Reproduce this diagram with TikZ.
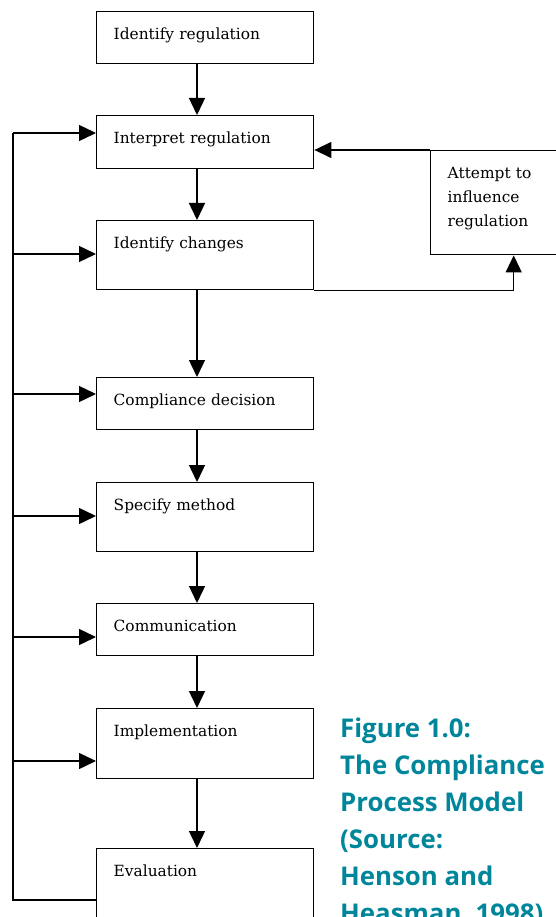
\documentclass[tikz,border=0pt]{standalone}
\usepackage{fontspec}
\setmainfont{DejaVu Serif}
\newfontfamily\capfont{Open Sans}
\usetikzlibrary{arrows.meta}
\definecolor{capteal}{RGB}{0,134,155}

\begin{document}
\begin{tikzpicture}[x=1pt,y=-1pt]
	\tikzset{stage/.style={draw=black,line width=1.4pt,anchor=north west,inner sep=0pt,inner xsep=17pt,text width=183pt,align=left,text height=28pt,text depth=#1,font=\fontsize{15.4}{24}\selectfont},
		flow/.style={-{Triangle[length=17pt,width=16pt]},line width=1.4pt}}
	\useasboundingbox (0,0) rectangle (556,917);
	\coordinate (axis) at (197,0);
	\coordinate (rail) at (13,900);
	\node[stage=24pt] (idreg) at (96,11) {Identify regulation};
	\node[stage=25pt] (interp) at (96,115) {Interpret regulation};
	\node[stage=41pt] (idchg) at (96,220) {Identify changes};
	\node[stage=24pt] (decide) at (96,377) {Compliance decision};
	\node[stage=41pt] (method) at (96,482) {Specify method};
	\node[stage=24pt] (comm) at (96,603) {Communication};
	\node[stage=42pt] (impl) at (96,708) {Implementation};
	\node[stage=41pt] (eval) at (96,848) {Evaluation};
	\node[stage=76pt,text width=132pt] (attempt) at (430,150) {Attempt to\\influence\\regulation};
	\node[anchor=base west,align=left,inner sep=0pt,text=capteal,font=\capfont\bfseries\fontsize{25.8}{37}\selectfont] (caption) at (340,922) {Figure 1.0:\\The Compliance\\Process Model\\(Source:\\Henson and\\Heasman, 1998)};
	\draw[flow] (idreg.south -| axis) -- (interp.north -| axis);
	\draw[flow] (interp.south -| axis) -- (idchg.north -| axis);
	\draw[flow] (idchg.south -| axis) -- (decide.north -| axis);
	\draw[flow] (decide.south -| axis) -- (method.north -| axis);
	\draw[flow] (method.south -| axis) -- (comm.north -| axis);
	\draw[flow] (comm.south -| axis) -- (impl.north -| axis);
	\draw[flow] (impl.south -| axis) -- (eval.north -| axis);
	\draw[flow] (attempt.north west) -- (attempt.north west -| interp.east);
	\draw[flow] (idchg.south east) -| (attempt.south);
	\draw[line width=1.4pt] (eval.west |- rail) -- (rail) -- (rail |- 0,133);
	\foreach \stg/\y in {interp/133,idchg/254,decide/394,method/516,comm/637,impl/761}
		\draw[flow] (rail |- 0,\y) -- (\stg.west |- 0,\y);
\end{tikzpicture}
\end{document}
